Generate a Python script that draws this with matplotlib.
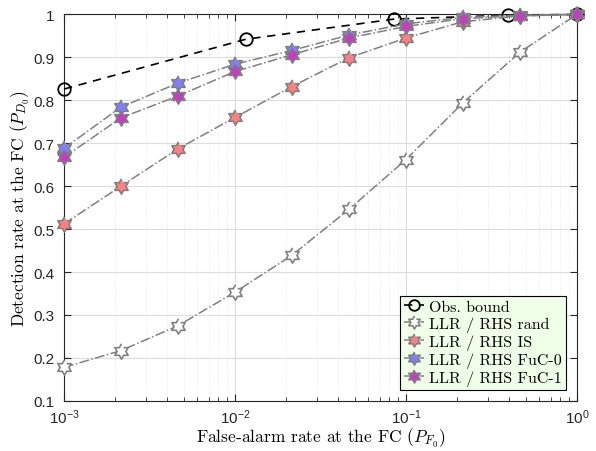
import matplotlib
matplotlib.use('Agg')
import matplotlib.pyplot as plt
import numpy as np

plt.rcParams['mathtext.fontset'] = 'cm'
plt.rcParams['axes.unicode_minus'] = False

# false-alarm rates (x) shared by the LLR / RHS curves
pf = [1e-3, 2.154e-3, 4.642e-3, 1e-2, 2.154e-2, 4.642e-2, 0.1, 0.2154, 0.4642, 1.0]

pd_rand = [0.178, 0.217, 0.275, 0.353, 0.439, 0.546, 0.662, 0.794, 0.912, 1.0]
pd_is = [0.512, 0.600, 0.687, 0.760, 0.832, 0.899, 0.945, 0.983, 0.996, 1.0]
pd_fuc0 = [0.688, 0.784, 0.840, 0.884, 0.916, 0.952, 0.978, 0.993, 0.998, 1.0]
pd_fuc1 = [0.667, 0.759, 0.810, 0.867, 0.906, 0.945, 0.972, 0.990, 0.997, 1.0]

# observation bound
pf_obs = [1e-3, 1.155e-2, 8.5e-2, 0.394, 1.0]
pd_obs = [0.826, 0.942, 0.989, 0.998, 1.0]

labels = ['LLR / RHS rand', 'LLR / RHS IS', 'LLR / RHS FuC-0', 'LLR / RHS FuC-1']
faces = ['white', '#FF8080', '#8080FF', '#C040C0']

# hexagram marker shape
ang = np.pi / 2 + np.arange(12) * np.pi / 6
rad = np.where(np.arange(12) % 2 == 0, 1.0, 1 / np.sqrt(3))
hexagram = list(zip(rad * np.cos(ang), rad * np.sin(ang)))

fig = plt.figure(figsize=(5.96, 4.52), dpi=100)
ax = fig.add_axes([0.1074, 0.111, 0.8607, 0.855])

ax.plot(pf_obs, pd_obs, color='black', ls=(0, (5, 4)), lw=1.2, marker='o',
        ms=9, mfc='none', mec='black', mew=1.3, label='Obs. bound', zorder=3,
        clip_on=False)

for vals, lab, fc in zip([pd_rand, pd_is, pd_fuc0, pd_fuc1], labels, faces):
    ax.plot(pf, vals, color='#808080', ls='-.', lw=1.1, marker=hexagram, ms=11,
            mfc=fc, mec='#808080', mew=1.2, label=lab, zorder=4, clip_on=False)

ax.set_xscale('log')
ax.set_xlim(1e-3, 1)
ax.set_ylim(0.1, 1)
ax.set_yticks(np.arange(0.1, 1.01, 0.1))
ax.set_yticklabels(['0.1', '0.2', '0.3', '0.4', '0.5', '0.6', '0.7', '0.8', '0.9', '1'])

ax.grid(True, which='major', color='#DCDCDC', lw=0.8)
ax.grid(True, which='minor', color='#E6E6E6', lw=0.6, ls=':')
ax.set_axisbelow(True)
ax.tick_params(which='both', direction='in', top=True, right=True,
               colors='#262626', labelsize=11)
ax.tick_params(which='major', length=5)
ax.tick_params(which='minor', length=3)
ax.tick_params(axis='x', which='major', pad=5)
ax.tick_params(axis='y', which='major', pad=7)
for s in ax.spines.values():
    s.set_color('#262626')
    s.set_linewidth(0.8)
for t in ax.get_xticklabels() + ax.get_yticklabels():
    t.set_fontfamily('Liberation Sans')

ax.set_xlabel('False-alarm rate at the FC ($P_{F_0}$)', fontsize=12.5, labelpad=0)
ax.set_ylabel('Detection rate at the FC ($P_{D_0}$)', fontsize=12.5, labelpad=1)
ax.xaxis.label.set_fontfamily('cmr10')
ax.yaxis.label.set_fontfamily('cmr10')

leg = ax.legend(loc='lower right', prop={'family': 'cmr10', 'size': 11.5},
                fancybox=False, framealpha=1, facecolor='#F0FFE8',
                edgecolor='black', handlelength=1.3, handletextpad=0.3,
                borderpad=0.25, labelspacing=0.15, borderaxespad=0.7,
                markerscale=0.85)
leg.get_frame().set_linewidth(0.8)

fig.savefig('out.png', dpi=100)
